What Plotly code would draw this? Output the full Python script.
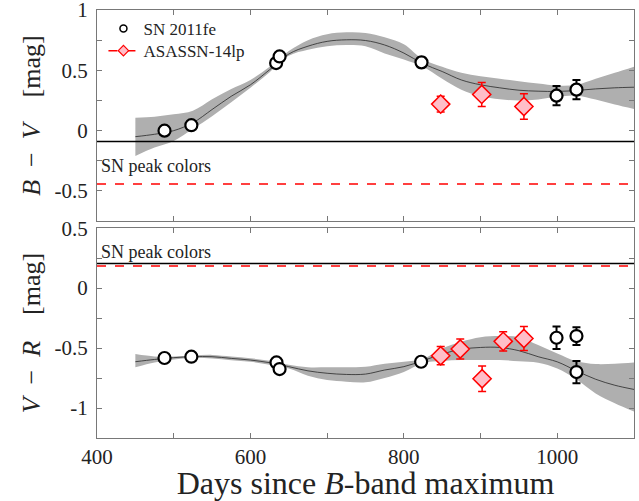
import plotly.graph_objects as go

# ---------------- data ----------------
# B-V panel: SN 2011fe
bv_fe_days = [488, 523, 633.5, 638, 823, 999, 1025]
bv_fe_vals = [0.00, 0.045, 0.56, 0.615, 0.566, 0.29, 0.34]
bv_fe_err = [0.02, 0.02, 0.025, 0.025, 0.04, 0.08, 0.08]
# B-V panel: ASASSN-14lp
bv_lp_days = [848, 901.5, 956.5]
bv_lp_vals = [0.22, 0.30, 0.20]
bv_lp_err = [0.065, 0.10, 0.105]

# V-R panel: SN 2011fe
vr_fe_days = [488, 523, 634, 638, 822.5, 999, 1025, 1025]
vr_fe_vals = [-0.583, -0.572, -0.62, -0.675, -0.614, -0.414, -0.40, -0.70]
vr_fe_err = [0.02, 0.02, 0.02, 0.02, 0.03, 0.094, 0.074, 0.093]
# V-R panel: ASASSN-14lp
vr_lp_days = [848, 873.5, 902, 929.5, 956.5]
vr_lp_vals = [-0.564, -0.508, -0.756, -0.444, -0.42]
vr_lp_err = [0.076, 0.083, 0.107, 0.08, 0.10]

# Model curves with uncertainty bands
model_days = [450, 475, 500, 525, 550, 575, 600, 625, 650, 675, 700, 725, 750,
              775, 800, 825, 850, 875, 900, 925, 950, 975, 1000, 1025, 1050, 1075, 1100]
bv_model = [-0.05, -0.03, 0.0, 0.065, 0.175, 0.285, 0.38, 0.505, 0.635, 0.70, 0.74,
            0.753, 0.747, 0.71, 0.643, 0.555, 0.49, 0.42, 0.38, 0.355, 0.335, 0.327,
            0.325, 0.333, 0.346, 0.355, 0.36]
bv_upper = [0.107, 0.115, 0.135, 0.165, 0.26, 0.345, 0.42, 0.53, 0.66, 0.75, 0.80,
            0.815, 0.81, 0.775, 0.717, 0.59, 0.53, 0.48, 0.45, 0.43, 0.41, 0.39,
            0.373, 0.38, 0.43, 0.48, 0.53]
bv_lower = [-0.21, -0.14, -0.085, 0.015, 0.12, 0.235, 0.355, 0.485, 0.62, 0.67, 0.70,
            0.71, 0.70, 0.64, 0.59, 0.53, 0.43, 0.34, 0.285, 0.26, 0.25, 0.258,
            0.28, 0.29, 0.258, 0.217, 0.18]

vr_model = [-0.614, -0.595, -0.58, -0.572, -0.572, -0.586, -0.60, -0.622, -0.655, -0.69,
            -0.71, -0.72, -0.717, -0.683, -0.655, -0.605, -0.55, -0.51, -0.495, -0.495,
            -0.522, -0.572, -0.615, -0.69, -0.76, -0.81, -0.845]
vr_upper = [-0.55, -0.57, -0.57, -0.562, -0.557, -0.57, -0.585, -0.605, -0.64, -0.66,
            -0.66, -0.66, -0.655, -0.63, -0.614, -0.59, -0.503, -0.447, -0.41, -0.40,
            -0.41, -0.475, -0.545, -0.61, -0.633, -0.63, -0.62]
vr_lower = [-0.66, -0.62, -0.595, -0.582, -0.587, -0.602, -0.615, -0.64, -0.67, -0.73,
            -0.767, -0.78, -0.786, -0.75, -0.70, -0.625, -0.608, -0.60, -0.60, -0.60,
            -0.61, -0.622, -0.67, -0.76, -0.878, -0.96, -1.03]

# SN peak colors (horizontal reference lines)
bv_peak_fe = -0.09
bv_peak_lp = -0.443
vr_peak_fe = 0.205
vr_peak_lp = 0.185

x_range = [400, 1100]
x_ticks = [400, 500, 600, 700, 800, 900, 1000, 1100]
x_ticktext = ['400', '', '600', '', '800', '', '1000', '']
bv_ticks = [-0.5, -0.25, 0, 0.25, 0.5, 0.75, 1]
bv_ticktext = ['-0.5', '', '0', '', '0.5', '', '1']
vr_ticks = [-1, -0.75, -0.5, -0.25, 0, 0.25, 0.5]
vr_ticktext = ['-1', '', '-0.5', '', '0', '', '0.5']

# ---------------- styles ----------------
FONT = "Liberation Serif"
BAND = "rgb(175,175,175)"
AXC = "rgb(120,120,120)"
TXT = "rgb(35,35,35)"
PINK = "rgb(255,190,200)"

fig = go.Figure()

def add_panel(xa, ya, model, up, lo, fe_d, fe_v, fe_e, lp_d, lp_v, lp_e):
    fig.add_trace(go.Scatter(x=model_days, y=lo, mode='lines', line=dict(width=0, shape='spline'),
                             xaxis=xa, yaxis=ya, showlegend=False, hoverinfo='skip'))
    fig.add_trace(go.Scatter(x=model_days, y=up, mode='lines', line=dict(width=0, shape='spline'),
                             fill='tonexty', fillcolor=BAND,
                             xaxis=xa, yaxis=ya, showlegend=False, hoverinfo='skip'))
    fig.add_trace(go.Scatter(x=model_days, y=model, mode='lines',
                             line=dict(color='rgb(40,40,40)', width=0.8, shape='spline'),
                             xaxis=xa, yaxis=ya, showlegend=False))
    fig.add_trace(go.Scatter(x=fe_d, y=fe_v, mode='markers',
                             error_y=dict(type='data', array=fe_e, color='black', thickness=2, width=4),
                             marker=dict(symbol='circle', size=12, color='white',
                                         line=dict(color='black', width=2.2)),
                             xaxis=xa, yaxis=ya, showlegend=False))
    fig.add_trace(go.Scatter(x=lp_d, y=lp_v, mode='markers',
                             error_y=dict(type='data', array=lp_e, color='red', thickness=1.5, width=4),
                             marker=dict(symbol='diamond', size=14, color=PINK,
                                         line=dict(color='red', width=1.5)),
                             xaxis=xa, yaxis=ya, showlegend=False))

add_panel('x', 'y', bv_model, bv_upper, bv_lower, bv_fe_days, bv_fe_vals, bv_fe_err,
          bv_lp_days, bv_lp_vals, bv_lp_err)
add_panel('x2', 'y2', vr_model, vr_upper, vr_lower, vr_fe_days, vr_fe_vals, vr_fe_err,
          vr_lp_days, vr_lp_vals, vr_lp_err)

# peak color lines
for xa, ya, yfe, ylp in [('x', 'y', bv_peak_fe, bv_peak_lp), ('x2', 'y2', vr_peak_fe, vr_peak_lp)]:
    fig.add_trace(go.Scatter(x=x_range, y=[yfe, yfe], mode='lines',
                             line=dict(color='black', width=1.5),
                             xaxis=xa, yaxis=ya, showlegend=False, hoverinfo='skip'))
    fig.add_trace(go.Scatter(x=x_range, y=[ylp, ylp], mode='lines',
                             line=dict(color='red', width=1.5, dash='dash'),
                             xaxis=xa, yaxis=ya, showlegend=False, hoverinfo='skip'))

# legend entries (one legend box each, for exact spacing)
fig.add_trace(go.Scatter(x=[None], y=[None], mode='markers', name='SN 2011fe', legend='legend2',
                         marker=dict(symbol='circle', size=7, color='white',
                                     line=dict(color='black', width=1.5)),
                         xaxis='x', yaxis='y'))
fig.add_trace(go.Scatter(x=[None], y=[None], mode='lines+markers', name='ASASSN-14lp', legend='legend3',
                         line=dict(color='red', width=1.5, dash='dash'),
                         marker=dict(symbol='diamond', size=8, color=PINK,
                                     line=dict(color='red', width=1.2)),
                         xaxis='x', yaxis='y'))

ax_common = dict(showline=True, linecolor=AXC, linewidth=1, mirror='allticks',
                 ticks='inside', ticklen=5, tickcolor=AXC, showgrid=False, zeroline=False,
                 automargin=False, ticklabeloverflow='allow',
                 tickfont=dict(family=FONT, size=21, color=TXT))

leg_common = dict(x=0.012, xanchor='left', yanchor='middle', yref='paper', traceorder='normal',
                  bgcolor='rgba(0,0,0,0)', font=dict(family=FONT, size=17, color=TXT),
                  itemwidth=30, tracegroupgap=0, borderwidth=0)

sp = "\u2002"
fig.update_layout(
    width=639, height=501,
    margin=dict(l=97, r=5, t=10, b=63),
    plot_bgcolor='white', paper_bgcolor='white',
    font=dict(family=FONT, color=TXT),
    xaxis=dict(domain=[0, 1], anchor='y', range=x_range, tickvals=x_ticks,
               ticktext=x_ticktext, showticklabels=False, **ax_common),
    yaxis=dict(domain=[0.5067, 1], anchor='x', range=[-0.75, 1], tickvals=bv_ticks,
               ticktext=bv_ticktext, ticklabelstandoff=4,
               title=dict(text=f'<i>B</i>{sp}−{sp}<i>V</i>\u2003[mag]',
                          font=dict(family=FONT, size=26, color=TXT), standoff=6),
               **ax_common),
    xaxis2=dict(domain=[0, 1], anchor='y2', range=x_range, tickvals=x_ticks,
                ticktext=x_ticktext, ticklabelstandoff=0,
                title=dict(text='Days since <i>B</i>-band maximum',
                           font=dict(family=FONT, size=32, color=TXT), standoff=6),
                **ax_common),
    yaxis2=dict(domain=[0, 0.4903], anchor='x2', range=[-1.25, 0.5], tickvals=vr_ticks,
                ticktext=vr_ticktext, ticklabelstandoff=4,
                title=dict(text=f'<i>V</i>{sp}−{sp}<i>R</i>\u2003[mag]',
                           font=dict(family=FONT, size=26, color=TXT), standoff=6),
                **ax_common),
    legend2=dict(y=0.9556, **leg_common),
    legend3=dict(y=0.904, **leg_common),
    showlegend=True,
)

fig.add_annotation(x=403, y=-0.29, xref='x', yref='y', text='SN peak colors', showarrow=False,
                   xanchor='left', yanchor='middle', font=dict(family=FONT, size=18, color=TXT))
fig.add_annotation(x=403, y=vr_peak_fe, xref='x2', yref='y2', text='SN peak colors', showarrow=False,
                   xanchor='left', yanchor='bottom', yshift=0,
                   font=dict(family=FONT, size=18, color=TXT))

fig.write_html("out.html", config={'displayModeBar': False},
               post_script="document.body.style.margin='0';")
